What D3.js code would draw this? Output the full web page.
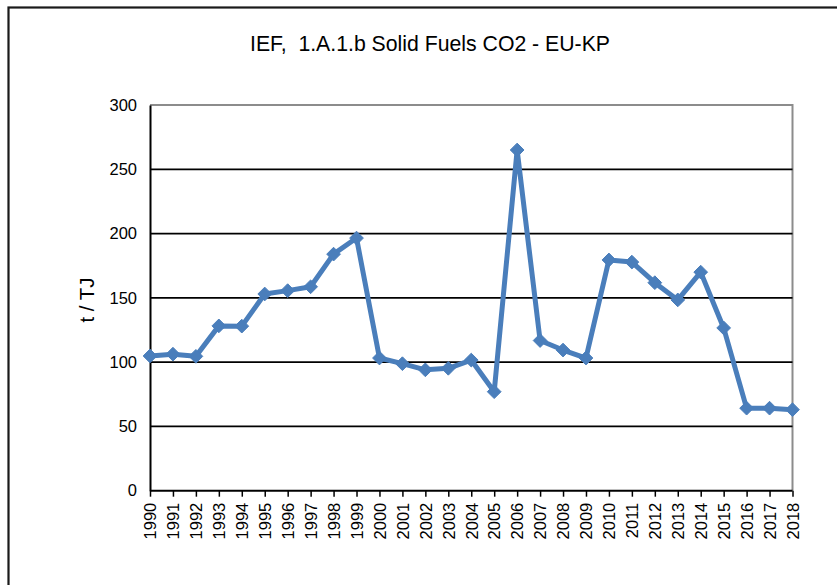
<!DOCTYPE html>
<html>
<head>
<meta charset="utf-8">
<script src="https://cdn.jsdelivr.net/npm/d3@7"></script>
<style>
  html, body { margin: 0; padding: 0; background: #fff; }
  svg { display: block; font-family: "Liberation Sans", Arial, sans-serif; }
</style>
</head>
<body>
<svg id="chart" width="837" height="585"></svg>
<script>
const title = "IEF,  1.A.1.b Solid Fuels CO2 - EU-KP";
const yAxisTitle = "t / TJ";
const years = ["1990","1991","1992","1993","1994","1995","1996","1997","1998","1999",
  "2000","2001","2002","2003","2004","2005","2006","2007","2008","2009",
  "2010","2011","2012","2013","2014","2015","2016","2017","2018"];
const values = [104.8, 106.2, 104.5, 128.2, 128.0, 153.0, 155.6, 158.6, 184.0, 196.5,
  103.2, 98.8, 94.0, 95.2, 101.6, 77.0, 265.0, 116.8, 109.4, 103.2,
  179.5, 177.8, 161.8, 148.4, 170.0, 126.6, 64.2, 64.2, 63.0];
const yTicks = [0, 50, 100, 150, 200, 250, 300];

const svg = d3.select("#chart");
const L = 150, R = 792.5, T = 105, B = 490.7;

// outer chart border
svg.append("rect").attr("x", 8.5).attr("y", 7.5).attr("width", 840).attr("height", 590)
  .attr("fill", "none").attr("stroke", "#1a1a1a").attr("stroke-width", 2.2);

const x = d3.scalePoint().domain(years).range([L, R]);
const y = d3.scaleLinear().domain([0, 300]).range([B, T]);

// plot area border (top / right gray)
svg.append("path")
  .attr("d", `M${L},${T}H${R}V${B}`)
  .attr("fill", "none").attr("stroke", "#8c8c8c").attr("stroke-width", 2);

// gridlines
svg.append("g").selectAll("line").data(yTicks.filter(d => d > 0 && d < 300)).join("line")
  .attr("x1", L).attr("x2", R)
  .attr("y1", d => y(d)).attr("y2", d => y(d))
  .attr("stroke", "#000").attr("stroke-width", 1.8);

// y axis
const yAxis = d3.axisLeft(y).tickValues(yTicks).tickSize(0).tickPadding(13);
const gy = svg.append("g").attr("transform", `translate(${L},0)`).call(yAxis);
gy.select(".domain").attr("stroke", "#000").attr("stroke-width", 2);
gy.selectAll("text").attr("font-size", 16.5).attr("fill", "#000")
  .attr("font-family", "Liberation Sans, Arial, sans-serif");

// x axis
const xAxis = d3.axisBottom(x).tickSize(6).tickPadding(0);
const gx = svg.append("g").attr("transform", `translate(0,${B})`).call(xAxis);
gx.select(".domain").attr("stroke", "#000").attr("stroke-width", 2).attr("d", `M${L},0H${R}`);
gx.selectAll(".tick line").attr("stroke", "#000").attr("stroke-width", 1.5);
gx.selectAll("text")
  .attr("font-size", 16.5).attr("fill", "#000")
  .attr("font-family", "Liberation Sans, Arial, sans-serif")
  .attr("text-anchor", "end")
  .attr("transform", "translate(0,12) rotate(-90)")
  .attr("dy", "0.35em").attr("dx", 0).attr("y", 0).attr("x", 0);

// line
const line = d3.line().x((d, i) => x(years[i])).y(d => y(d));
svg.append("path").datum(values)
  .attr("d", line).attr("fill", "none")
  .attr("stroke", "#4a7ebb").attr("stroke-width", 5).attr("stroke-linejoin", "round");

// diamond markers
const sym = d3.symbol().type(d3.symbolDiamond2).size(120);
svg.append("g").selectAll("path").data(values).join("path")
  .attr("d", sym)
  .attr("transform", (d, i) => `translate(${x(years[i])},${y(d)})`)
  .attr("fill", "#4a7ebb").attr("stroke", "#4a7ebb").attr("stroke-width", 1);

// title
svg.append("text").attr("x", 430).attr("y", 51).attr("text-anchor", "middle")
  .attr("font-size", 22.5).attr("fill", "#000")
  .attr("textLength", 360).attr("lengthAdjust", "spacingAndGlyphs")
  .style("white-space", "pre")
  .text(title);

// y axis title
svg.append("text").attr("transform", "translate(94,300) rotate(-90)")
  .attr("text-anchor", "middle").attr("font-size", 20.5).attr("fill", "#000")
  .text(yAxisTitle);
</script>
</body>
</html>
